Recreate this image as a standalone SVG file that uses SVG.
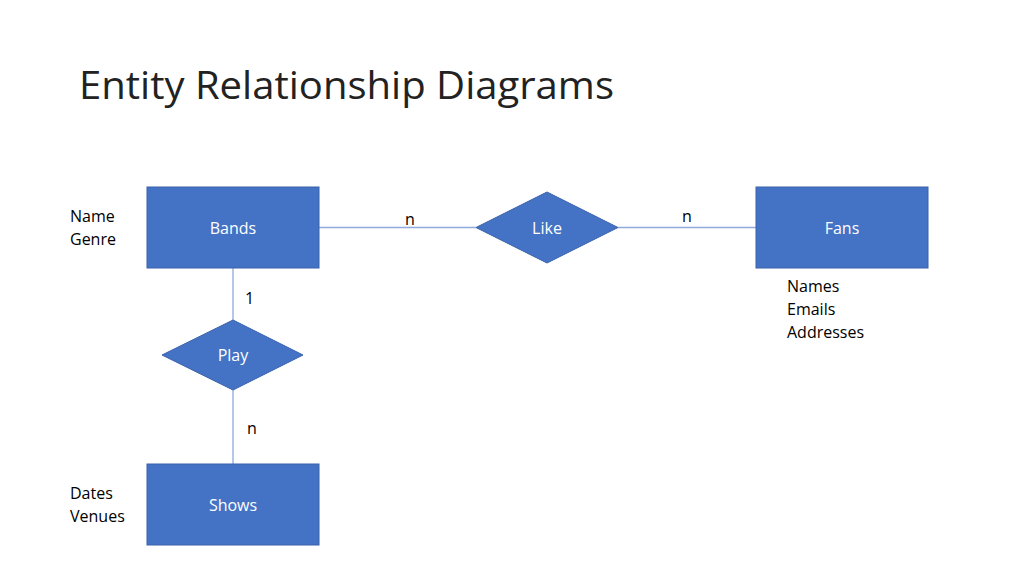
<svg xmlns="http://www.w3.org/2000/svg" width="1024" height="576" viewBox="0 0 1024 576">
<style>
.ent{fill:#4472C4;stroke:#3A62AB;stroke-width:1}
.lbl{font-family:"Open Sans","Noto Sans",sans-serif;font-size:16px;fill:#FFFFFF;text-anchor:middle}
.txt{font-family:"Open Sans","Noto Sans",sans-serif;font-size:16px;fill:#000000}
.title{font-family:"Open Sans","Noto Sans",sans-serif;font-size:38px;fill:#222222}
.conn{stroke:#8FAADC;stroke-width:1.3;fill:none}
</style>
<rect width="1024" height="576" fill="#FFFFFF"/>
<text class="title" x="79" y="99" textLength="535" lengthAdjust="spacingAndGlyphs">Entity Relationship Diagrams</text>
<g id="connectors">
<line class="conn" x1="319" y1="227.5" x2="476" y2="227.5"/>
<line class="conn" x1="618" y1="227.5" x2="756" y2="227.5"/>
<line class="conn" x1="233" y1="268" x2="233" y2="320"/>
<line class="conn" x1="233" y1="390" x2="233" y2="464"/>
<text class="txt" x="405" y="225">n</text>
<text class="txt" x="682" y="222">n</text>
<text class="txt" x="245" y="304">1</text>
<text class="txt" x="247" y="434">n</text>
</g>
<g id="bands">
<rect class="ent" x="147" y="187" width="172" height="81"/>
<text class="lbl" x="233" y="234">Bands</text>
<text class="txt" x="70" y="222">Name</text>
<text class="txt" x="70" y="245">Genre</text>
</g>
<g id="like">
<polygon class="ent" points="547,192 618,227.5 547,263 476,227.5"/>
<text class="lbl" x="547" y="234">Like</text>
</g>
<g id="fans">
<rect class="ent" x="756" y="187" width="172" height="81"/>
<text class="lbl" x="842" y="234">Fans</text>
<text class="txt" x="787" y="292">Names</text>
<text class="txt" x="787" y="315">Emails</text>
<text class="txt" x="787" y="338">Addresses</text>
</g>
<g id="play">
<polygon class="ent" points="233,320 303,355 233,390 162,355"/>
<text class="lbl" x="233" y="361">Play</text>
</g>
<g id="shows">
<rect class="ent" x="147" y="464" width="172" height="81"/>
<text class="lbl" x="233" y="511">Shows</text>
<text class="txt" x="70" y="499">Dates</text>
<text class="txt" x="70" y="522">Venues</text>
</g>
</svg>
